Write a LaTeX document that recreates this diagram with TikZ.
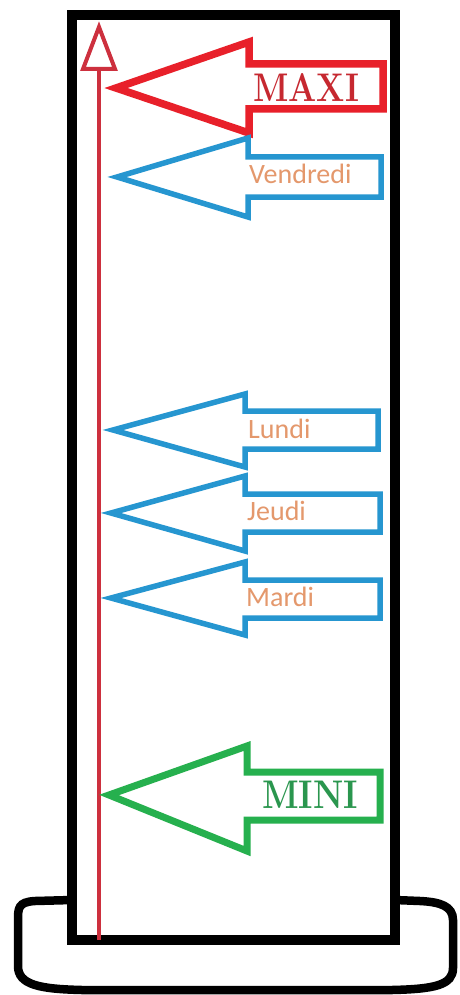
\documentclass[tikz,border=0pt]{standalone}
\usepackage{fontspec}
\newfontfamily\jourfont{Carlito}

\definecolor{rougeF}{RGB}{232,32,42}
\definecolor{rougeT}{RGB}{198,40,48}
\definecolor{rougeAxe}{RGB}{205,48,62}
\definecolor{bleuF}{RGB}{38,150,208}
\definecolor{vertF}{RGB}{38,176,78}
\definecolor{vertT}{RGB}{42,150,78}
\definecolor{orangeT}{RGB}{228,152,108}

% outline arrow pointing left:
% #1 style, (#2,#3) tip, #4 head back x, #5/#6 head top/bottom y,
% #7/#8 shaft top/bottom y, #9 tail x
\newcommand\flecheg[9]{%
  \draw[#1] (#2,#3) -- (#4,#5) -- (#4,#7) -- (#9,#7) -- (#9,#8)
    -- (#4,#8) -- (#4,#6) -- cycle;}

\begin{document}
\begin{tikzpicture}[x=1pt,y=-1pt,
    cadre/.style={draw=black,line width=10pt,fill=white},
    socle/.style={draw=black,line width=8.5pt},
    axe/.style={draw=rougeAxe,line width=4pt},
    flmax/.style={draw=rougeF,line width=7.5pt},
    fljour/.style={draw=bleuF,line width=5.5pt},
    flmin/.style={draw=vertF,line width=7pt},
    jour/.style={inner sep=0pt,anchor=base west,text=orangeT,
      font=\jourfont\fontsize{28}{28}\selectfont},
    repere/.style={inner sep=0pt,anchor=base west,
      font=\bfseries\fontsize{40}{40}\selectfont}]
\useasboundingbox (0,0) rectangle (459,995);

% base of the gauge
\draw[socle] (72,900) -- (35,901) .. controls (18,902) and (18,908) .. (18,921)
  -- (18,966) .. controls (18,985) and (40,989) .. (82,990) -- (392,990)
  .. controls (435,989) and (453,985) .. (453,968) -- (453,920)
  .. controls (453,906) and (440,902) .. (420,901) -- (395,900);

% body of the gauge
\draw[cadre] (72,15) rectangle (395,940);

% vertical axis with open arrow head
\coordinate (axebas) at (99,940);
\coordinate (axehaut) at (99,69);
\draw[axe] (axebas) -- (axehaut);
\draw[axe] (99,27) -- (115,69) -- (83,69) -- cycle;

% maximum level
\flecheg{flmax}{116}{88}{249}{42}{133}{64}{109}{383}
\node[repere,text=rougeT,xscale=0.83] (maxi) at (253,102) {MAXI};

% weekday levels
\flecheg{fljour}{117}{177}{248}{138}{217}{157}{197}{381}
\node[jour] (vendredi) at (249,184) {Vendredi};

\flecheg{fljour}{113}{430}{245}{394}{467}{411}{449}{378}
\node[jour] (lundi) at (248,438) {Lundi};

\flecheg{fljour}{111}{513}{245}{476}{551}{494}{532}{380}
\node[jour] (jeudi) at (247,520) {Jeudi};

\flecheg{fljour}{111}{598}{245}{562}{635}{580}{618}{380}
\node[jour] (mardi) at (246,606) {Mardi};

% minimum level
\flecheg{flmin}{109}{795}{247}{746}{851}{772}{820}{380}
\node[repere,text=vertT,xscale=0.86] (mini) at (262,808) {MINI};
\end{tikzpicture}
\end{document}
